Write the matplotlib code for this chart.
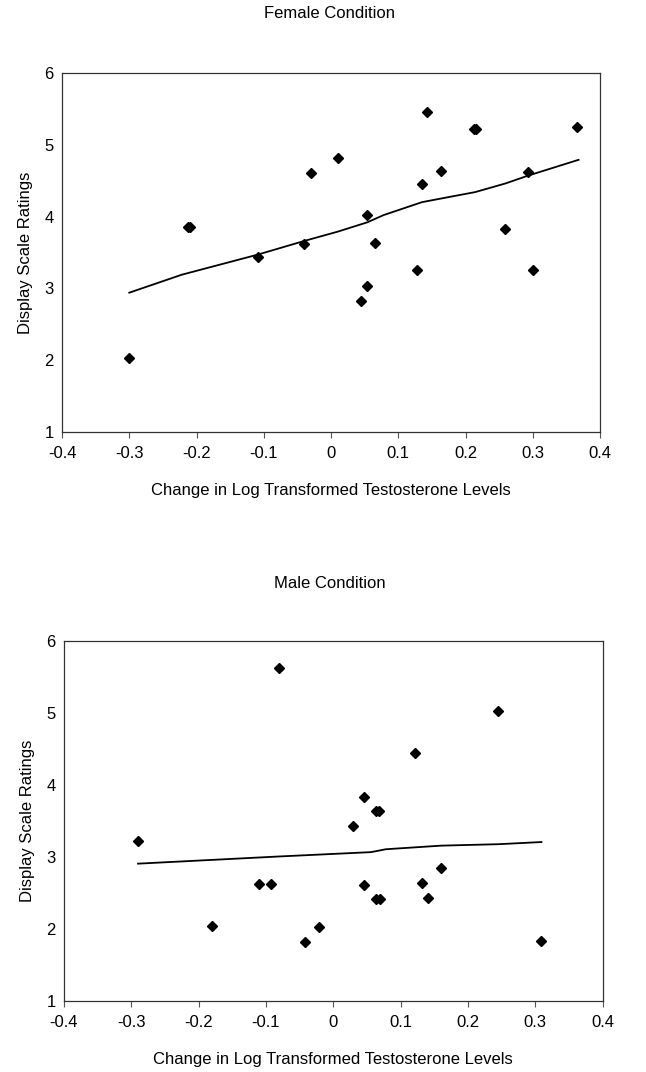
#!/usr/bin/env python

import numpy as np
import matplotlib
matplotlib.use("Agg")
import matplotlib.pyplot as plt

plt.rcParams['font.family'] = ['Liberation Sans', 'DejaVu Sans']

'''Female condition data'''
female_x = [-0.300, -0.212, -0.209, -0.109, -0.040, -0.030, 0.010, 0.054, 0.065,
            0.054, 0.044, 0.127, 0.135, 0.143, 0.163, 0.212, 0.215, 0.259,
            0.293, 0.300, 0.366]
female_y = [2.03, 3.85, 3.85, 3.44, 3.62, 4.61, 4.81, 4.02, 3.63,
            3.03, 2.82, 3.26, 4.45, 5.45, 4.63, 5.22, 5.22, 3.83,
            4.62, 3.25, 5.24]
# smoothed fit line as drawn in the figure
female_fit_x = [-0.300, -0.222, -0.109, -0.040, 0.010, 0.054, 0.078, 0.135, 0.163,
                0.214, 0.259, 0.293, 0.368]
female_fit_y = [2.94, 3.19, 3.47, 3.66, 3.79, 3.92, 4.02, 4.20, 4.25,
                4.34, 4.46, 4.57, 4.79]

'''Male condition data'''
male_x = [-0.290, -0.180, -0.110, -0.092, -0.081, -0.042, -0.021, 0.029, 0.045,
          0.045, 0.064, 0.068, 0.064, 0.069, 0.122, 0.132, 0.140, 0.160,
          0.244, 0.308]
male_y = [3.22, 2.04, 2.63, 2.63, 5.63, 1.82, 2.03, 3.43, 3.83,
          2.62, 3.64, 3.64, 2.42, 2.42, 4.45, 2.64, 2.44, 2.85,
          5.03, 1.83]
male_fit_x = [-0.290, -0.080, 0.056, 0.078, 0.160, 0.245, 0.309]
male_fit_y = [2.91, 3.01, 3.07, 3.11, 3.16, 3.18, 3.21]

x_ticks = [-0.4, -0.3, -0.2, -0.1, 0, 0.1, 0.2, 0.3, 0.4]
x_labels = ['-0.4', '-0.3', '-0.2', '-0.1', '0', '0.1', '0.2', '0.3', '0.4']
y_ticks = [1, 2, 3, 4, 5, 6]

xlabel = "Change in Log Transformed Testosterone Levels"
ylabel = "Display Scale Ratings"

fig = plt.figure(figsize=(6.46, 10.72), dpi=100)

def draw_panel(rect, xs, ys, fx, fy, title, title_y):
	ax = fig.add_axes(rect)
	ax.plot(fx, fy, color='black', lw=1.3)
	ax.plot(xs, ys, 'D', color='black', ms=5.5, mec='black')
	ax.set_xlim(-0.4, 0.4)
	ax.set_ylim(1, 6)
	ax.set_xticks(x_ticks)
	ax.set_xticklabels(x_labels)
	ax.set_yticks(y_ticks)
	ax.tick_params(axis='x', direction='out', length=4, width=0.8, labelsize=12, pad=6, color='#555555')
	ax.tick_params(axis='y', length=0, labelsize=12, pad=6)
	for s in ax.spines.values():
		s.set_linewidth(0.9)
		s.set_color('#333333')
	ax.set_xlabel(xlabel, fontsize=12, labelpad=16)
	ax.set_ylabel(ylabel, fontsize=12, labelpad=8)
	fig.text(0.51, title_y, title, ha='center', va='center', fontsize=12)
	return ax

draw_panel([0.096, 0.597, 0.833, 0.335], female_x, female_y, female_fit_x, female_fit_y,
	"Female Condition", 1 - 14/1072)
draw_panel([0.099, 0.066, 0.834, 0.336], male_x, male_y, male_fit_x, male_fit_y,
	"Male Condition", 1 - 584/1072)

fig.savefig("out.png", dpi=100)
